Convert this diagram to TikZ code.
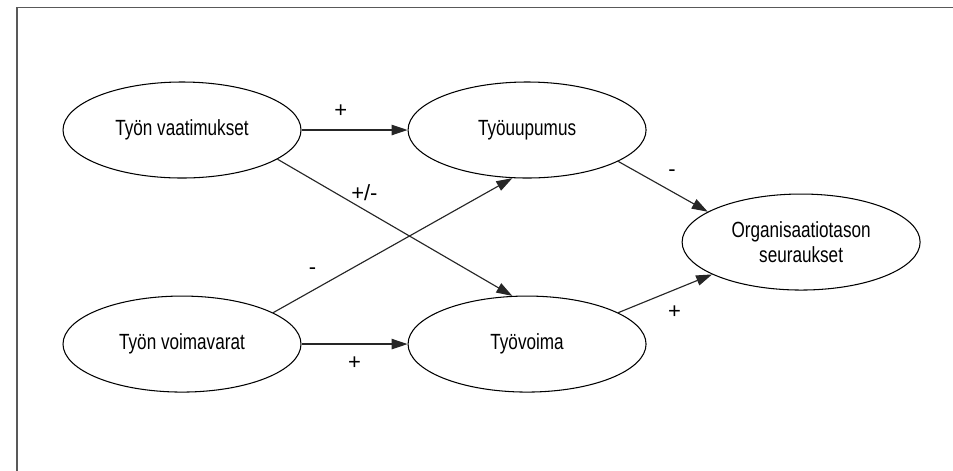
\documentclass[tikz,border=0pt]{standalone}
\usepackage{fontspec}
\setmainfont{Liberation Sans}[FakeStretch=0.78]
\newfontfamily\signfont{Liberation Sans}
\usetikzlibrary{positioning, arrows.meta, shapes.geometric, calc}

\begin{document}
\begin{tikzpicture}[node distance=2.34cm and 2.12cm,
    every node/.style={font=\fontsize{12.5}{14.6}\selectfont},
    ell/.style={ellipse, draw, line width=0.6pt, minimum width=4.76cm, minimum height=1.92cm, inner sep=0pt, align=center},
    arrow/.style={-{Triangle[length=0.32cm, width=0.21cm]}, line width=0.65pt, draw=black!85},
    sign/.style={font=\signfont\fontsize{12.5}{14}\selectfont, inner sep=1pt},
    frame/.style={draw=black!65, line width=0.9pt}]

  \useasboundingbox (0,0) rectangle (19.06,-9.4);
  \draw[frame] (0.34,-9.6) |- (19.3,-0.15);

  \node[ell] (vaat) at (3.64,-2.60) {Työn vaatimukset};
  \node[ell, below=of vaat] (voim) {Työn voimavarat};
  \node[ell, right=of vaat] (uup) {Työuupumus};
  \node[ell, right=of voim] (tyov) {Työvoima};
  \coordinate (mid) at ($(uup.east)!0.5!(tyov.east) + (0,-0.1)$);
  \node[ell, right=0.7cm of mid] (org) {Organisaatiotason\\seuraukset};

  \draw[arrow] (vaat) -- node[pos=0.37, above=0.2cm, sign]{+} (uup);
  \draw[arrow] (voim) -- node[midway, below=0.2cm, sign]{+} (tyov);
  \draw[arrow] (vaat.-17) -- node[pos=0.37, above=0.13cm, sign]{+/-} (tyov.107);
  \draw[arrow] (voim.19) -- node[pos=0.165, above=0.28cm, sign]{-} (uup.253);
  \draw[arrow] (uup.-19) -- node[pos=0.6, above=0.26cm, sign]{-} (org.162);
  \draw[arrow] (tyov.19) -- node[pos=0.6, below=0.27cm, sign]{+} (org.200);
\end{tikzpicture}
\end{document}
